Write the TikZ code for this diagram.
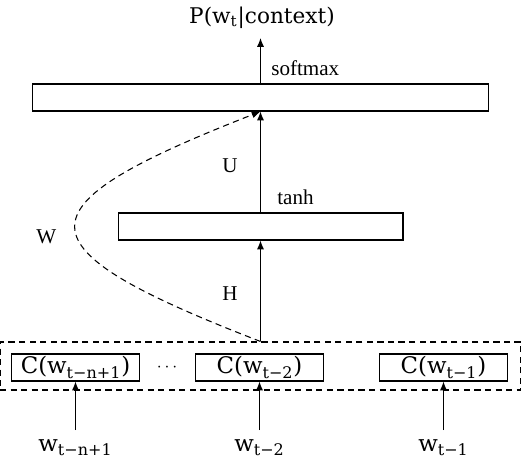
\documentclass[tikz,border=0pt]{standalone}
\usepackage{fontspec}
\setmainfont{Liberation Serif}
\newfontfamily\cambriaish{DejaVu Serif}
\usepackage{tikz}
\usetikzlibrary{arrows.meta, positioning}

\tikzset{
	bar/.style = {draw, line width=0.6pt, minimum height=0.54cm, inner sep=0pt},
	cbox/.style = {bar, minimum width=2.56cm, font=\cambriaish\fontsize{13}{15}\selectfont},
	lbl/.style = {inner sep=0pt, font=\fontsize{12}{14}\selectfont},
	wlbl/.style = {inner sep=0pt, anchor=base, font=\cambriaish\fontsize{13}{15}\selectfont},
	arr/.style = {line width=0.6pt, -{Latex[length=5pt,width=4pt]}},
	dsh/.style = {line width=0.6pt, dash pattern=on 3.5pt off 2.5pt},
}

\begin{document}
\begin{tikzpicture}[x=0.02cm, y=-0.02cm]
	\useasboundingbox (0,0) rectangle (524,460);

	% layers
	\node[bar, minimum width=9.14cm] (out) at (260.5,97.5) {};
	\node[bar, minimum width=5.7cm] (hid) at (260.5,226.5) {};
	\node[dsh, draw, minimum width=10.42cm, minimum height=0.96cm, inner sep=0pt] (ctx) at (260.5,366) {};

	% word features
	\node[cbox] (c1) at (75.5,367.5) {C(w\textsubscript{t−n+1})};
	\node[cbox] (c2) at (259.5,367.5) {C(w\textsubscript{t−2})};
	\node[cbox] (c3) at (443.5,367.5) {C(w\textsubscript{t−1})};
	\node (dots) at (167,367.5) {$\cdots$};

	\node[wlbl] (w1) at (75.5,451) {w\textsubscript{t−n+1}};
	\node[wlbl] (w2) at (259.5,451) {w\textsubscript{t−2}};
	\node[wlbl] (w3) at (443.5,451) {w\textsubscript{t−1}};
	\coordinate (s1) at (75.5,430);
	\coordinate (s2) at (259.5,430);
	\coordinate (s3) at (443.5,430);

	\draw[arr] (s1) -- (c1.south);
	\draw[arr] (s2) -- (c2.south);
	\draw[arr] (s3) -- (c3.south);

	% network
	\draw[arr] (ctx.north) -- (hid.south);
	\draw[arr] (hid.north) -- (out.south);
	\coordinate (ptop) at (260.5,38);
	\draw[arr] (out.north) -- (ptop);
	\draw[dsh, -{Latex[length=5pt,width=4pt]}] (ctx.north) .. controls (14,246) and (14,208) .. (out.south);

	% labels
	\node[inner sep=0pt, anchor=base, font=\cambriaish\fontsize{12.3}{14}\selectfont] (title) at (262,23) {P(w\textsubscript{t}|context)};
	\node[lbl, anchor=base west] (softmax) at (271,75) {softmax};
	\node[lbl, anchor=base west] (tanh) at (277,204) {tanh};
	\node[lbl, anchor=base west] (U) at (222,172) {U};
	\node[lbl, anchor=base west] (H) at (222,300) {H};
	\node[lbl, anchor=base west] (W) at (36,243) {W};
\end{tikzpicture}
\end{document}
